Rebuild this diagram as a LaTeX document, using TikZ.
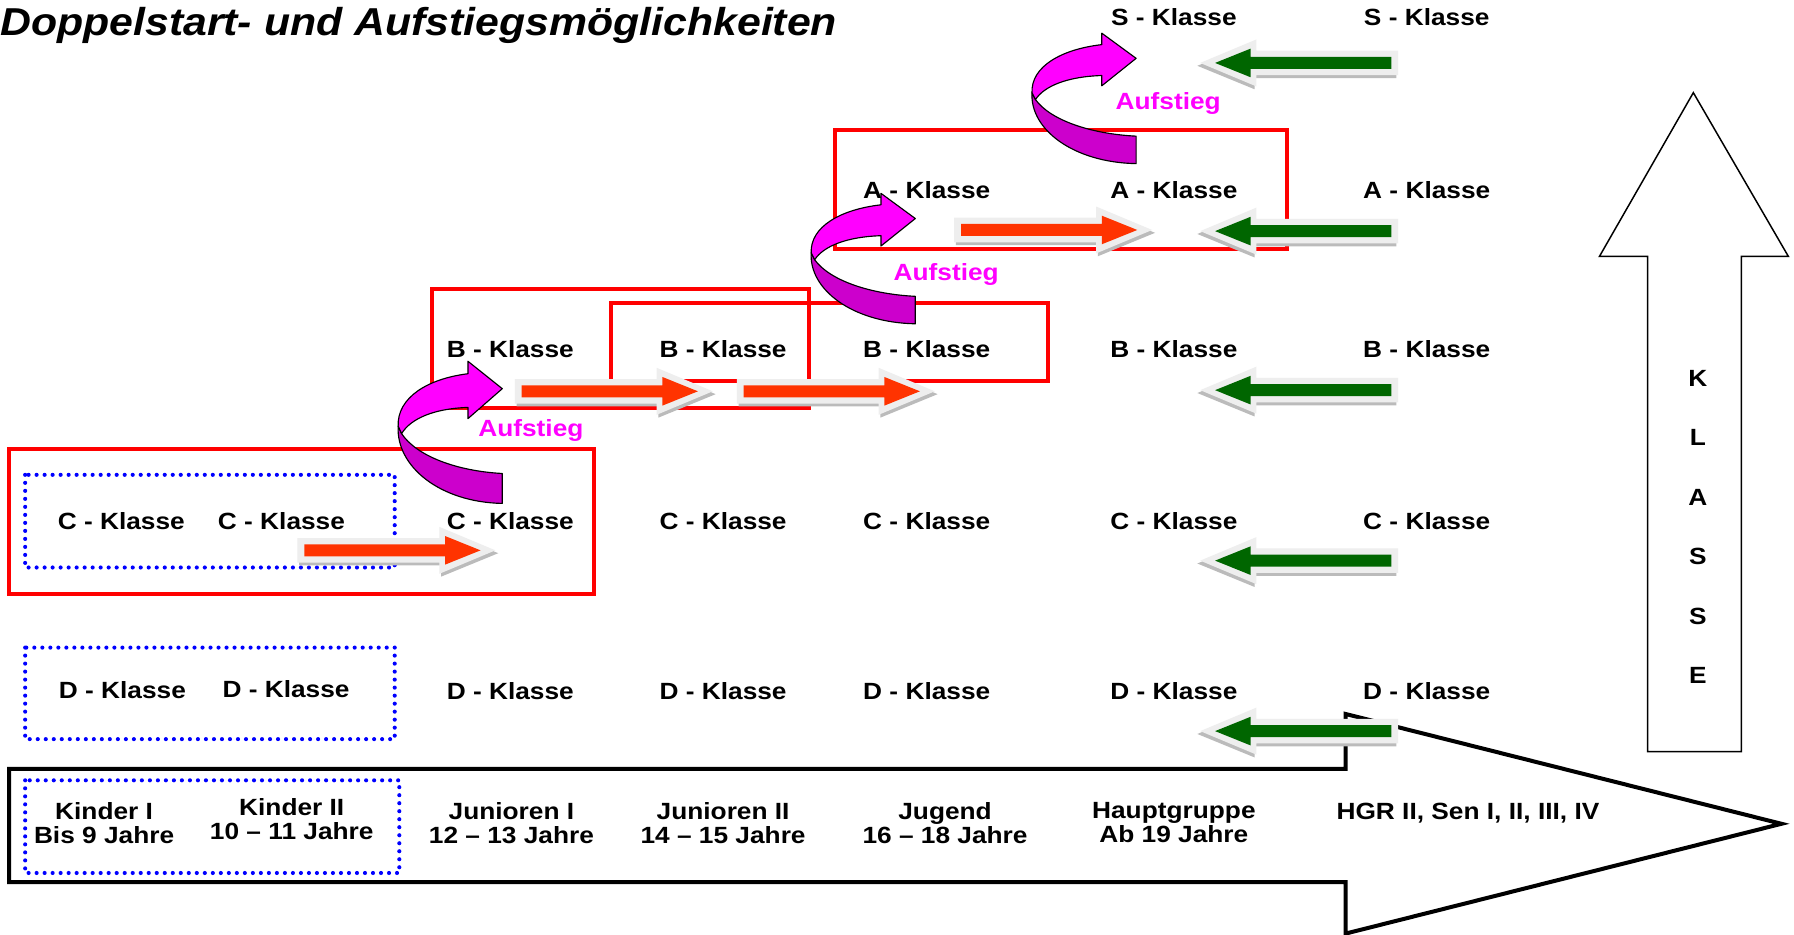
\documentclass[tikz,border=0pt]{standalone}
\usepackage{fontspec}
\newfontfamily\labfont{Liberation Sans}[FakeStretch=1.12]
\newfontfamily\titfont{Liberation Sans}[FakeStretch=1.1]
\definecolor{orangeA}{HTML}{FF3300}
\definecolor{greenA}{HTML}{006600}
\definecolor{magA}{HTML}{FF00FF}
\definecolor{magB}{HTML}{CC00CC}
\definecolor{frameG}{HTML}{EEEEEE}
\definecolor{shadeG}{HTML}{BBBBBB}
\begin{document}
\begin{tikzpicture}[x=1pt,y=-1pt,
  lab/.style={font=\labfont\bfseries\fontsize{20.5}{21}\selectfont, inner sep=0pt, text height=15pt, text depth=0pt},
  age/.style={font=\labfont\bfseries\fontsize{20.5}{21}\selectfont, inner sep=0pt, align=center, anchor=north},
  auf/.style={lab, text=magA},
  redbox/.style={draw=red, line width=3.5pt},
  bluebox/.style={draw=blue, line width=3.6pt, line cap=round, dash pattern=on 0pt off 7pt},
  pics/flatarrow/.style={code={
    \fill[shadeG] (-4.5,-8.25) -- (119.5,-8.25) -- (119.5,-18) -- (169.5,2.5) -- (119.5,23) -- (119.5,13.25) -- (-4.5,13.25) -- cycle;
    \fill[frameG] (-6,-10.75) -- (118,-10.75) -- (118,-20.5) -- (167,0) -- (118,20.5) -- (118,10.75) -- (-6,10.75) -- cycle;
    \fill[#1] (0,-5.25) -- (123,-5.25) -- (123,-12.5) -- (154,0) -- (123,12.5) -- (123,5.25) -- (0,5.25) -- cycle;
  }},
  pics/uturn/.style={code={
    \filldraw[draw=black, line width=1pt, fill=magB, line join=round] (0,0) -- (0,-24) .. controls (-40,-26) and (-75,-38) .. (-88,-56) -- (-91,-62) .. controls (-93,-30) and (-55,-1) .. (0,0) -- cycle;
    \filldraw[draw=black, line width=1pt, fill=magA, line join=round] (-91,-62) .. controls (-92,-85) and (-65,-100) .. (-30,-104) -- (-30,-114) -- (0,-92) -- (-30,-68) -- (-30,-77) .. controls (-60,-76) and (-80,-68) .. (-88,-56) -- cycle;
  }}
]
\useasboundingbox (0,0) rectangle (1568,817);
\fill[white] (0,0) rectangle (1568,817);

% title
\node[anchor=base west, inner sep=0pt, font=\titfont\bfseries\itshape\fontsize{34}{34}\selectfont] (title) at (0,31) {Doppelstart- und Aufstiegsmöglichkeiten};

% bottom age arrow
\draw[line width=3.5pt, fill=white, miter limit=10] (8,672) -- (1176,672) -- (1176,624) -- (1557,720) -- (1176,816) -- (1176,771) -- (8,771) -- cycle;

% KLASSE arrow
\draw[line width=1.3pt, fill=white] (1440,657) -- (1440,224) -- (1398,224) -- (1480,81) -- (1563,224) -- (1522,224) -- (1522,657) -- cycle;
\foreach \l/\yy [count=\i] in {K/330,L/382,A/434,S/486,S/538,E/590}
  \node[lab] (kl\i) at (1484,\yy) {\l};

% red boxes
\draw[redbox] (8,392) rectangle (519,519);
\draw[redbox] (378,253) rectangle (707,357);
\draw[redbox] (534,265) rectangle (916,333);
\draw[redbox] (730,114) rectangle (1125,218);

% blue dotted boxes
\draw[bluebox] (22,415) rectangle (345,496);
\draw[bluebox] (22,566) rectangle (345,646);
\draw[bluebox] (22,682) rectangle (349,763);

% class labels
\node[lab] (S6) at (1026,15) {S - Klasse};
\node[lab] (S7) at (1247,15) {S - Klasse};
\node[lab] (A5) at (810,166) {A - Klasse};
\node[lab] (A6) at (1026,166) {A - Klasse};
\node[lab] (A7) at (1247,166) {A - Klasse};
\node[lab] (B3) at (446,305) {B - Klasse};
\node[lab] (B4) at (632,305) {B - Klasse};
\node[lab] (B5) at (810,305) {B - Klasse};
\node[lab] (B6) at (1026,305) {B - Klasse};
\node[lab] (B7) at (1247,305) {B - Klasse};
\node[lab] (C1) at (106,455) {C - Klasse};
\node[lab] (C2) at (246,455) {C - Klasse};
\node[lab] (C3) at (446,455) {C - Klasse};
\node[lab] (C4) at (632,455) {C - Klasse};
\node[lab] (C5) at (810,455) {C - Klasse};
\node[lab] (C6) at (1026,455) {C - Klasse};
\node[lab] (C7) at (1247,455) {C - Klasse};
\node[lab] (D1) at (107,603) {D - Klasse};
\node[lab] (D2) at (250,602) {D - Klasse};
\node[lab] (D3) at (446,604) {D - Klasse};
\node[lab] (D4) at (632,604) {D - Klasse};
\node[lab] (D5) at (810,604) {D - Klasse};
\node[lab] (D6) at (1026,604) {D - Klasse};
\node[lab] (D7) at (1247,604) {D - Klasse};

% age labels
\node[age] (g1) at (91,701) {Kinder I\\Bis 9 Jahre};
\node[age] (g2) at (255,698) {Kinder II\\10 – 11 Jahre};
\node[age] (g3) at (447,701) {Junioren I\\12 – 13 Jahre};
\node[age] (g4) at (632,701) {Junioren II\\14 – 15 Jahre};
\node[age] (g5) at (826,701) {Jugend\\16 – 18 Jahre};
\node[age] (g6) at (1026,701) {Hauptgruppe\\Ab 19 Jahre};
\node[lab] (g7) at (1283,709) {HGR II, Sen I, II, III, IV};

% Aufstieg
\node[auf] (auf1) at (464,374) {Aufstieg};
\node[auf] (auf2) at (827,238) {Aufstieg};
\node[auf] (auf3) at (1021,88) {Aufstieg};

% curved arrows
\pic[yscale=1.09] at (439,440) {uturn};
\pic at (800,283) {uturn};
\pic at (993,143) {uturn};

% orange arrows
\pic at (266,481) {flatarrow=orangeA};
\pic at (456,342) {flatarrow=orangeA};
\pic at (650,342) {flatarrow=orangeA};
\pic at (840,201) {flatarrow=orangeA};

% green arrows
\foreach \yy in {55,202,341,490,639}
  \pic[xscale=-1] at (1216,\yy) {flatarrow=greenA};
\end{tikzpicture}
\end{document}
